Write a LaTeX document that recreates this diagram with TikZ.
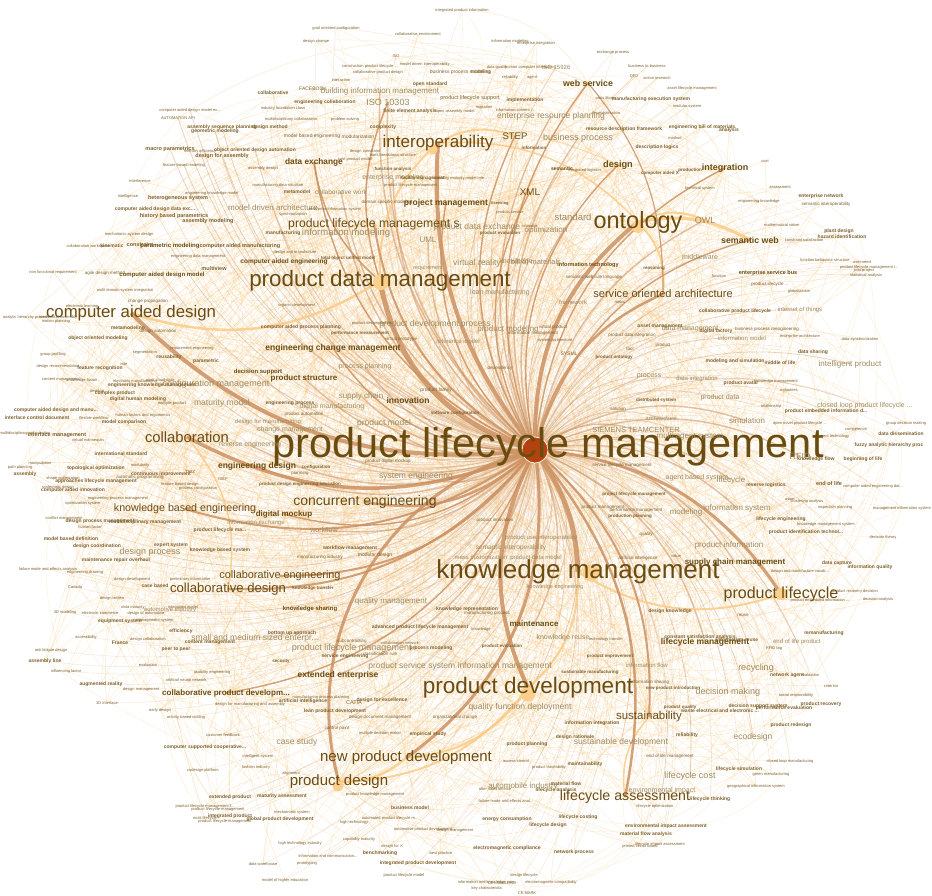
\documentclass[tikz,border=0pt]{standalone}
\usepackage{fontspec}
\setmainfont{Liberation Sans}
\pgfdeclarelayer{bgwhite}
\pgfdeclarelayer{web}
\pgfdeclarelayer{edges}
\pgfsetlayers{bgwhite,web,edges,main}
\definecolor{txtD}{HTML}{6B4C10}
\definecolor{txtL}{HTML}{A08A5E}
\definecolor{txtT}{HTML}{7E6230}
\definecolor{edgeB}{HTML}{CC9161}
\definecolor{edgeT}{HTML}{E2B27E}
\definecolor{edgeO}{HTML}{FBCB85}
\definecolor{edgeW}{HTML}{FDE2B6}
\definecolor{hubc}{HTML}{B4420E}
\definecolor{nodeO}{HTML}{FCCF8C}
\newcommand\elp{.\kern0pt.\kern0pt.}
\def\fmtR{\color{txtD}}
\def\fmtB{\color{txtD}\bfseries}
\def\fmtL{\color{txtL}}
\def\fmtT{\color{txtT}}
\def\fmtS{\color{txtT}\bfseries}
\tikzset{
  lab/.style={inner sep=0pt, outer sep=0pt},
  hubnode/.style={circle, fill=hubc, draw=white, line width=0.6pt, minimum size=26pt, inner sep=0pt},
  dot/.style={circle, fill=nodeO, inner sep=0pt},
  hubedgeA/.style={draw=edgeB, line width=1.4pt, opacity=0.55},
  hubedgeM/.style={draw=edgeB, line width=0.8pt, opacity=0.38},
  hubedge/.style={draw=edgeT, line width=0.45pt, opacity=0.3},
  majedge/.style={draw=edgeO, line width=0.4pt, opacity=0.45},
  webedge/.style={draw=edgeW, line width=0.35pt, opacity=0.6},
  thickB/.style={draw=edgeB, opacity=0.85},
  thickO/.style={draw=edgeO, opacity=0.85}
}
\begin{document}
\begin{tikzpicture}[x=1pt,y=-1pt]
\useasboundingbox (0,0) rectangle (932,896);
\begin{pgfonlayer}{bgwhite}
\fill[white] (0,0) rectangle (932,896);
\end{pgfonlayer}
% node circles
\node[hubnode] (hub) at (535,450) {};
\node[dot, minimum size=17pt] (dKM) at (591,573) {};
\node[dot, minimum size=16pt] (dPDM) at (381,282) {};
\node[dot, minimum size=15pt] (dPD) at (528,694) {};
\node[dot, minimum size=12pt] (dON) at (638,227) {};
\node[dot, minimum size=12pt] (dPL) at (781,594) {};
\node[dot, minimum size=11pt] (dPDS) at (338,786) {};
\node[dot, minimum size=9pt] (dIO) at (433,150) {};
% labels
\foreach \px/\py/\fs/\st/\lbl [count=\i] in {
548/447/41.5/R/product lifecycle management,
578/572/26/R/knowledge management,
528/688/22.5/R/product development,
380/281/22.4/R/product data management,
638/222/23.5/R/ontology,
131/313/16.8/R/computer aided design,
438/143/17/R/interoperability,
187/437/14.8/R/collaboration,
339/782/15/R/product design,
406/758/15/R/new product development,
625/797/14.2/R/lifecycle assessment,
781/594/16/R/product lifecycle,
649/717/11.5/R/sustainability,
663/294/11.1/R/service oriented architecture,
374/224/12.2/R/product lifecycle management s,
365/502/14/R/concurrent engineering,
185/509/10.7/R/knowledge based engineering,
280/576/10.9/R/collaborative engineering,
228/589/13.1/R/collaborative design,
226/693/8/B/collaborative product developm\elp,
314/162/8.3/B/data exchange,
446/203/8.6/B/project management,
588/83/8.8/B/web service,
618/165/9.2/B/design,
725/168/9/B/integration,
515/136/9.5/R/STEP,
530/192/9.8/R/XML,
750/240/8.8/B/semantic web,
284/514/8/B/digital mockup,
333/348/8.5/B/engineering change management,
304/378/8/B/product structure,
408/400/8.5/B/innovation,
257/466/8.5/B/engineering design,
735/562/8/B/supply chain management,
705/642/8.5/B/lifecycle management,
534/624/8/B/maintenance,
338/675/8.5/B/extended enterprise,
705/220/9/L/OWL,
573/217/9.5/L/standard,
388/102/9/L/ISO 10303,
380/91/8/L/building information management,
551/116/8.5/L/enterprise resource planning,
578/138/9/L/business process,
346/233/9.5/L/information modeling,
428/240/8/L/UML,
393/178/7/L/enterprise modeling,
341/192/6.5/L/collaborative work,
361/396/8/L/supply chain,
365/367/7/L/process planning,
384/423/8.5/L/product model,
290/430/7/L/change management,
250/445/7/L/reverse engineering,
416/476/8.5/L/system engineering,
324/530/7/L/workflow,
747/421/8/L/simulation,
800/456/9/L/RFID,
636/430/7.5/L/SIEMENS TEAMCENTER,
686/512/8/L/modeling,
737/508/8/L/information system,
731/480/8/L/lifecycle,
729/545/8/L/product information,
477/263/8.5/L/virtual reality,
546/230/8/L/optimization,
391/601/8/L/quality management,
354/648/9/L/product lifecycle management i,
460/666/8.5/L/product service system information management,
297/742/8.5/L/case study,
520/707/8.5/L/quality function deployment,
621/742/8.5/L/sustainable development,
728/692/9/L/decision making,
756/668/9/L/recycling,
753/737/8.5/L/ecodesign,
690/776/9/L/lifecycle cost,
662/791/7/L/environmental impact,
523/786/8/L/automobile industry,
150/552/9/L/design process,
216/384/9/L/configuration management,
222/403/8.5/L/maturity model,
850/364/8/L/intelligent product,
865/406/7/L/closed loop product lifecycle \elp,
435/324/8.5/L/product development process,
273/208/8/L/model driven architecture,
477/227/8.5/L/product data exchange,
284/262/6.5/B/computer aided engineering,
255/638/8.5/L/small and medium sized enterpr\elp,
690/436/8/L/multi agent system,
697/478/7/L/agent based system,
768/273/5.5/B/enterprise service bus,
508/329/8/L/product modeling,
690/329/7/L/data management,
742/338/6/L/information model,
720/398/7/L/product data,
700/257/7/L/middleware,
588/265/5.5/B/information technology,
562/169/5/B/semantic,
556/67/6/L/ISO 15926,
536/262/7.5/L/bill of materials,
516/262/7/L/knowledge,
500/293/7/L/lean manufacturing,
573/302/6/L/framework,
649/376/7/L/process,
697/379/6/L/data integration,
661/418/6/L/architecture,
541/538/6/L/product use interoperability,
511/548/6.5/L/semantic interoperability,
536/558/6/L/product data model,
481/557/6/L/mass customization,
555/587/5.5/L/knowledge engineering,
563/638/7/L/knowledge reuse,
647/665/6/L/information flow,
800/310/6/L/internet of things,
797/642/6/L/end of life product,
258/372/6/B/decision support,
332/407/7/L/digital manufacturing,
268/422/6/L/design for manufacturing,
256/523/6/L/information exchange,
458/341/6/L/reference model,
170/246/6/B/parametric modeling,
162/275/6/B/computer aided design model,
310/609/6/B/knowledge sharing,
170/610/6/L/automotive industry,
190/110/4/T/computer aided design model ex\elp,
178/118/4/T/AUTOMATION API,
222/127/5/S/assembly sequence planning,
215/131/5/S/geometric modeling,
170/149/5.5/S/macro parametrics,
200/151/4/T/memory efficiency,
255/150/5/S/object oriented design automation,
222/156/5.5/S/design for assembly,
184/165/4/T/feature based modeling,
140/181/4/T/interference,
128/196/4/T/intelligence,
178/198/5.5/S/heterogeneous system,
212/193/4/T/engineering knowledge model,
155/209/5/S/computer aided design data exc\elp,
174/216/5.5/S/history based parametrics,
208/221/5.5/S/assembly modeling,
129/234/4/T/mechatronic system design,
88/246/4/T/collaboration workspace,
112/246/5/S/kinematic,
140/245/5.5/S/constraint,
240/246/5.5/S/computer aided manufacturing,
198/256/4/T/engineering data management,
53/272/4/T/non functional requirement,
105/273/4.5/T/agile design method,
214/269/5.5/S/multiview,
125/290/4/T/multi domain system integration,
462/10/4/T/integrated product information,
336/28/4/T/goal oriented configuration,
418/34/4/T/collaborative environment,
316/41/4/T/design change,
396/56/4/T/ISO,
370/66/4/T/construction product lifecycle \elp,
427/64/4/T/model driven interoperability \elp,
378/72/4/T/collaborative product design,
460/72/5/T/business process modeling,
341/80/4/T/interaction,
430/84/5/S/open standard,
313/89/5/T/FACEBOOK,
273/93/5/S/collaborative,
470/98/5.5/T/product lifecycle support,
325/102/5/S/engineering collaboration,
283/108/4/T/industry foundation class,
410/111/5/S/finite element analysis,
455/111/4/T/open assembly model,
291/119/4/T/multidisciplinary collaboration,
345/119/4/T/problem solving,
270/127/5/S/design method,
383/127/5/S/complexity,
312/136/5/T/model based engineering,
358/137/5/T/modularization,
365/151/4/T/design constraint,
393/155/4/T/work breakdown structure,
355/159/4/T/cost product model,
393/169/4.5/S/function analysis,
263/168/4/T/assembly design,
423/178/4.5/S/facility management,
413/185/4/T/product lifecycle management \elp,
278/185/4/T/manufacturing data structure,
297/192/5/S/metamodel,
387/202/4.5/T/domain specific modeling,
293/214/4/T/synchronization,
335/209/4/T/enterprise information system,
283/233/5/S/manufacturing,
348/258/4.5/S/total object unified model,
295/252/4/T/design and manufacture,
428/268/5.5/L/requirement,
510/41/4/T/information modeling,
536/43/4/T/enterprise integration,
613/52/4/T/exchange process,
647/66/4/T/business to business,
497/67/4/T/data quality,
530/67/4/T/human computer interaction,
481/72/5/T/modeling,
510/77/4/T/reliability,
532/78/4/T/agent,
634/76/4/T/QFD,
657/78/4/T/action research,
692/88/4/T/asset lifecycle management,
525/100/5/S/implementation,
606/98/4/T/parts library,
651/99/5/S/manufacturing execution system,
687/106/4/T/modular system,
484/107/4/T/migration,
515/110/4/T/information content \elp,
606/113/4/T/decentralisation,
624/129/5/S/resource description framework,
702/127/5/S/engineering bill of materials,
729/130/5/S/analysis,
675/138/4/T/method,
534/148/4.5/S/information,
657/147/5/S/description logics,
585/170/4/T/integrated logistics,
660/173/4.5/S/computer aided X,
690/170/4.5/S/production,
460/178/4/T/capability maturity model inte\elp,
700/188/4/T/technical system,
500/203/4/S/licensing,
510/212/4/T/product service,
530/226/4/T/reusable,
500/233/4.5/S/product evaluation,
654/268/4.5/S/reasoning,
594/277/4.5/T/semantic web rule language,
765/161/4/T/cost,
780/187/4/T/assessment,
821/196/5/S/enterprise network,
759/201/4/T/engineering knowledge,
826/204/4.5/T/semantic interoperability,
782/225/4/T/mathematical solver,
839/231/5/S/plant design,
842/237/5/S/hazard identification,
804/240/4/T/constraint satisfaction,
825/260/4/T/function behaviour structure,
862/262/4/T/user need,
869/267/4/T/product lifecycle management i\elp,
864/270/4/T/joint project,
866/275/4/T/statistical analysis,
719/276/4/T/function,
770/284/4.5/T/product lifecycle \elp,
799/291/4/T/globalization,
148/301/4.5/T/change propagation,
82/306/4/T/electronic learning,
26/317/4/T/analytic hierarchy process,
58/317/4/T/mechanical assembly,
56/321/4/T/motion planning,
128/328/5/S/metamodeling,
158/331/4.5/T/design automation,
98/338/5/S/object oriented modeling,
192/348/4/T/requirement engineering,
53/354/4/T/group profiling,
145/352/4/T/segmentation,
169/357/5/S/reusability,
206/361/5/S/parametric,
124/364/4/T/role,
58/366/4/T/design recommendation,
100/368/5/S/feature recognition,
61/380/4/T/content management,
82/380/4/T/knowledge fusion,
135/381/4/T/electronic manufacturing,
160/380/4/T/point cloud data,
152/385/5/S/engineering knowledge management,
97/391/4/T/desktop,
115/393/5/S/complex product,
138/399/5/S/digital human modeling,
172/403/4/T/multiple product,
56/410/5/S/computer aided design and manu\elp,
37/418/5/S/interface control document,
94/418/4/T/flexible workflow,
124/422/5/S/model comparison,
143/415/4/T/human factors and ergonomics,
25/433/4/T/multidisciplinary optimization,
57/435/5.5/S/interface management,
88/440/4/T/virtual mannequin,
121/454/5/S/international standard,
40/463/4/T/manipulation,
20/467/4/T/path planning,
96/468/5/S/topological optimization,
140/465/4/T/modularity,
161/474/5/S/continuous improvement,
190/472/4.5/T/TRIZ,
25/474/5/S/assembly,
63/478/4/T/shape optimization,
96/481/5/S/approaches lifecycle management,
140/477/4.5/T/automatic programming,
58/487/4/T/systematic design,
73/490/5/S/computer aided innovation,
180/484/4/T/feature based design,
198/488/4/T/process configuration,
223/479/4/T/IDEF,
118/498/4/T/engineering process management,
83/503/4/T/optimization system,
64/518/4/T/conflict management,
100/521/5/S/design process management,
145/522/5/S/multidisciplinary management,
90/527/4/T/human factor,
220/530/5/S/product lifecycle ma\elp,
71/539/5/S/model based definition,
97/546/5/S/design coordination,
171/545/5/S/expert system,
220/550/5/S/knowledge based system,
116/560/5/S/maintenance repair overhaul,
48/569/4/T/failure mode and effects analysis,
85/572/4/T/engineering drawing,
132/579/4/T/design development,
190/579/4/T/preliminary information,
75/587/4/T/Canada,
155/586/5/S/case based,
297/305/4/T/organic development,
372/323/4/T/product decomposition,
301/327/5/S/computer aided process planning,
360/333/4.5/S/performance measurement,
401/339/4.5/T/virtual prototype,
436/390/5/T/product family,
290/403/5/S/engineering process,
304/414/4.5/T/product automation,
455/413/4.5/S/software configuration,
316/467/4.5/S/configuration,
388/461/4.5/T/product digital mockup,
300/473/4.5/T/planning,
300/484/4.5/S/product design engineering education,
350/548/5/S/workflow management,
375/555/5/T/modular design,
313/588/4.5/S/knowledge transfer,
320/557/4.5/T/manufacturing industry,
620/302/4/T/metric,
553/327/4.5/T/virtual product,
660/326/5/S/asset management,
533/333/4.5/T/information management,
632/335/4.5/T/product data integration,
555/340/4/T/system architecture,
630/349/4.5/T/tool,
663/345/4.5/T/product,
569/354/5/T/SYSML,
614/357/4.5/S/product ontology,
500/368/4.5/T/dependency,
618/409/4.5/T/solution,
656/400/4.5/S/distributed system,
622/465/4.5/T/service lifecycle management,
634/494/4.5/S/project lifecycle management,
603/507/4.5/T/product management,
636/510/4.5/T/performance management,
630/516/4.5/S/production planning,
646/534/4.5/T/quality,
495/520/4.5/T/product innovation,
638/558/4.5/T/artificial intelligence,
676/556/4/T/value,
735/311/5/S/collaborative product lifecycle,
716/331/5/S/digital factory,
767/329/4.5/T/business process reengineering,
800/336/4/T/enterprise architecture,
860/339/4/T/data synchronization,
813/352/5/S/data sharing,
735/361/5/S/modeling and simulation,
780/363/5/S/middle of life,
741/383/5/S/product avatar,
776/381/4/T/knowledge management,
789/390/4/T/industries,
771/406/4/T/relationship,
826/411/5/S/product embedded information d\elp,
800/423/4/T/open novel product lifecycle \elp,
906/423/4/T/group decision making,
901/434/5/S/data dissemination,
856/430/4/T/competence,
834/436/4/T/agent technology,
889/445/5/S/fuzzy analytic hierarchy proc,
816/459/5/S/knowledge flow,
863/459/5/S/beginning of life,
766/485/5/S/reverse logistics,
829/484/5.5/S/end of life,
873/486/4/T/computer aided engineering dat\elp,
790/499/4/T/asset,
807/501/4/T/clustering analysis,
835/507/4/T/inspection planning,
902/508/4/T/management information system,
781/519/5/S/lifecycle engineering,
826/524/4/T/knowledge management system,
806/532/5/S/product identification technol\elp,
883/537/4/T/decision theory,
837/563/5/S/data capture,
870/567/5/S/information quality,
800/571/4/T/design and manufacture vocab\elp,
855/591/4/T/product recovery decision,
878/599/4/T/decision analysis,
820/600/4/T/product embedded information \elp,
743/615/4.5/T/reuse,
824/633/5/S/remanufacturing,
774/649/4/T/RFID tag,
737/640/5/S/information reuse,
787/675/5/S/network agent,
810/675/4/T/evaluation,
831/686/4/T/criterion,
796/695/4/T/social responsibility,
821/704/5/S/product recovery,
758/706/5/S/decision support system,
784/708/5/S/performance evaluation,
720/711/5/S/waste electrical and electronic \elp,
791/725/5/S/product redesign,
790/761/4/T/closed loop manufacturing,
739/769/5/S/lifecycle simulation,
771/774/4/T/green manufacturing,
756/786/4/T/geographical information system,
710/799/5/S/lifecycle thinking,
670/611/5/S/design knowledge,
700/637/5/S/constant satisfaction analysis,
606/639/4/T/technology transfer,
481/629/4/T/knowledge,
502/646/4.5/S/product evaluation,
610/656/4.5/S/product improvement,
590/672/4.5/S/sustainable manufacturing,
673/688/4.5/S/new product introduction,
650/682/4.5/T/information sharing,
680/707/4.5/S/product quality,
592/723/5/S/information integration,
575/737/5/S/design rationale,
687/735/5/S/reliability,
670/756/4.5/T/end of life management,
527/744/5/S/product planning,
585/764/5/S/maintainability,
516/761/4/T/access control,
549/767/4/T/product traceability,
566/784/5/S/material flow,
556/790/5/S/lifecycle analysis,
506/801/4/T/failure mode and effects anal\elp,
655/806/4/T/lifecycle optimization,
507/819/5/S/energy consumption,
578/817/5/S/lifecycle costing,
548/825/5/S/lifecycle design,
666/826/5/S/environmental impact assessment,
646/834/5/S/material flow analysis,
640/846/4/T/printed circuit board,
660/844/4/T/lifecycle impact assessment,
507/848/5/S/electromagnetic compliance,
574/852/5/S/network process,
524/875/4/T/design lifecycle,
502/883/4/T/CE LABELLING,
551/882/4/T/electromagnetic compatibility,
527/893/4/T/CE MARK,
467/609/5/S/knowledge representation,
487/613/4.5/T/manufacturing process,
292/633/5/S/bottom up approach,
420/627/5/S/advanced product lifecycle management,
352/641/4.5/T/subcontracting,
400/643/4/T/collaboration network,
431/648/5/S/process modeling,
281/661/4.5/S/security,
345/656/5/S/service engineering,
380/654/4.5/T/classification rule,
321/697/4/T/manufacturing process planning,
354/703/5.5/T/CATIA,
382/700/5/S/design for excellence,
303/701/5/S/artificial intelligence,
250/704/4/T/design for manufacturing and assembly,
335/711/5/S/lean product development,
380/717/4.5/T/design document management,
455/717/4.5/T/organizational change,
337/728/4.5/T/control point,
380/733/4/T/multiple decision maker,
428/734/5/S/empirical study,
258/756/4/T/intelligent system,
256/767/4/T/fashion industry,
291/773/4/T/alignment,
495/789/4/T/after sales service,
282/796/5/S/maturity assessment,
375/794/4/T/product knowledge management,
410/808/5/S/business model,
292/812/4/T/mechatronic system,
280/819/5/S/global product development,
390/818/4/T/automated product lifecycle m\elp,
354/822/4/T/high technology,
423/829/4/T/automotive product development,
455/830/4/T/design management,
359/839/4/T/capability maturity,
300/843/4/T/high technology industry,
392/846/4/T/design for X,
380/853/5/S/benchmarking,
441/853/4/T/best practice,
328/856/4/T/information and communication\elp,
418/863/5/S/integrated product development,
263/864/4/T/data warehouse,
307/863/4/T/prototyping,
404/875/4/T/product lifecycle model,
285/880/4/T/model of higher education,
488/882/4/T/information and knowledge man\elp,
487/888/4/T/key characteristic,
112/598/4/T/design review,
133/607/4/T/data maturity,
183/607/4/T/integrated model,
65/612/4/T/3D modeling,
100/613/4/T/electronic commerce,
146/613/4/T/design of automotive,
120/621/5/S/equipment system,
155/621/4/T/management system,
181/631/5/S/efficiency,
86/637/4/T/accessibility,
148/639/4/T/design collaboration,
210/642/5/S/content management,
120/643/5/S/France,
176/649/5/S/peer to peer,
51/650/4/T/anti fatigue design,
45/661/5/S/assembly line,
66/671/4/T/influencing factor,
148/665/4/T/evaluation,
212/672/4/T/usability engineering,
186/680/4/T/artificial neural network,
101/684/5/S/augmented reality,
141/689/4/T/design management,
107/703/4/T/3D interface,
160/710/4/T/early design,
186/717/4/T/activity based costing,
223/735/4/T/customer feedback,
205/747/5/S/computer supported cooperative\elp,
203/770/4/T/codesign platform,
230/797/5/S/extended product,
205/806/4/T/product lifecycle management f\elp,
218/809/4/T/product lifecycle management,
230/816/5/S/integrated product,
205/818/4/T/multi lifecycle,
225/821/4/T/product lifecycle management}
{
  \node[lab] (n\i) at (\px,\py) {\csname fmt\st\endcsname\fontsize{\fs}{\fs}\selectfont \lbl};
  \xdef\Ntot{\i}
}
% faint web between random nodes
\pgfmathsetseed{4242}
\begin{pgfonlayer}{web}
\foreach \k in {1,...,700}{
  \pgfmathrandominteger{\ra}{1}{\Ntot}
  \pgfmathrandominteger{\rb}{1}{\Ntot}
  \ifnum\ra=\rb\relax\else
    \draw[webedge] (n\ra.center) to[bend left=30] (n\rb.center);
  \fi
}
\foreach \i in {31,...,\Ntot}{
  \pgfmathrandominteger{\ra}{2}{30}
  \draw[majedge] (n\i.center) to[bend left=28] (n\ra.center);
}
\end{pgfonlayer}
% edges from the hub
\begin{pgfonlayer}{edges}
\foreach \i in {31,...,60}{
  \draw[hubedgeA] (hub) to[bend left=25] (n\i.center);
}
\foreach \i in {61,...,130}{
  \draw[hubedgeM] (hub) to[bend left=28] (n\i.center);
}
\foreach \i in {131,...,\Ntot}{
  \draw[hubedge] (hub) to[bend left=30] (n\i.center);
}
% secondary strong edges
\draw[thickO, line width=2.5pt] (n4.center) to[bend left=25] (n6.center);
\draw[thickO, line width=2pt] (n4.center) to[bend left=25] (n7.center);
\draw[thickO, line width=2pt] (n7.center) to[bend left=25] (n26.center);
\draw[thickO, line width=1.5pt] (n7.center) to[bend left=25] (n5.center);
\draw[thickO, line width=3pt] (n5.center) to[bend left=20] (n28.center);
\draw[thickO, line width=2pt] (n5.center) to[bend left=25] (n38.center);
\draw[thickO, line width=2pt] (n5.center) to[bend left=25] (n14.center);
\draw[thickO, line width=2pt] (n2.center) to[bend right=25] (n12.center);
\draw[thickO, line width=2.5pt] (n9.center) to[bend right=20] (n10.center);
\draw[thickO, line width=2pt] (n9.center) to[bend right=25] (n3.center);
\draw[thickO, line width=2pt] (n3.center) to[bend left=25] (n10.center);
\draw[thickO, line width=2pt] (n2.center) to[bend left=25] (n3.center);
\draw[thickO, line width=1.5pt] (n11.center) to[bend left=25] (n13.center);
\draw[thickO, line width=1.5pt] (n8.center) to[bend left=25] (n19.center);
\draw[thickB, line width=1.5pt] (n4.center) to[bend left=20] (n40.center);
\draw[thickB, line width=1.5pt] (n4.center) to[bend left=20] (n21.center);
\draw[thickB, line width=1.2pt] (n23.center) to[bend left=20] (n14.center);
% thick edges from hub
\draw[thickB, line width=5pt] (hub) to[bend left=15] (n2.center);
\draw[thickB, line width=5pt] (hub) to[bend left=30] (n4.center);
\draw[thickB, line width=4pt] (hub) to[bend right=25] (n3.center);
\draw[thickB, line width=4pt] (hub) to[bend left=25] (n6.center);
\draw[thickB, line width=4pt] (hub) to[bend left=20] (n7.center);
\draw[thickB, line width=4pt] (hub) to[bend left=25] (n5.center);
\draw[thickB, line width=3.5pt] (hub) to[bend left=25] (n8.center);
\draw[thickB, line width=3pt] (hub) to[bend right=45] (n9.center);
\draw[thickB, line width=3pt] (hub) to[bend left=30] (n10.center);
\draw[thickB, line width=2.5pt] (hub) to[bend left=25] (n11.center);
\draw[thickB, line width=3pt] (hub) to[bend left=25] (n12.center);
\draw[thickB, line width=2pt] (hub) to[bend left=25] (n13.center);
\draw[thickB, line width=2.5pt] (hub) to[bend left=25] (n14.center);
\draw[thickB, line width=2pt] (hub) to[bend left=25] (n15.center);
\draw[thickB, line width=2.5pt] (hub) to[bend left=25] (n16.center);
\foreach \i in {17,18,19}{
  \draw[thickB, line width=2pt] (hub) to[bend left=25] (n\i.center);
}
\foreach \i in {20,...,30}{
  \draw[thickB, line width=1.4pt] (hub) to[bend left=28] (n\i.center);
}
\end{pgfonlayer}
\end{tikzpicture}
\end{document}
